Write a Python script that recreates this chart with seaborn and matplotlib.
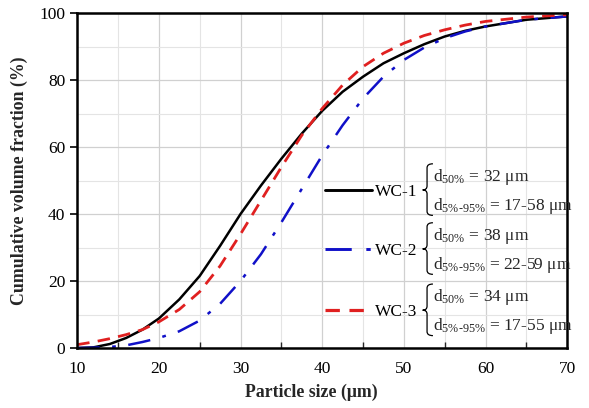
import numpy as np
import pandas as pd
import seaborn as sns
import matplotlib
matplotlib.use("Agg")
import matplotlib.pyplot as plt
from matplotlib.path import Path
from matplotlib.patches import PathPatch
from matplotlib.ticker import MultipleLocator

# ---- data ----
size_um = [10, 12, 14, 16, 18, 20, 22.5, 25, 27.5, 30, 32.5, 35, 37.5, 40,
           42.5, 45, 47.5, 50, 52.5, 55, 57.5, 60, 65, 70]
wc1 = [0, 0.2, 1.2, 3, 5.5, 8.8, 14.5, 21.5, 30.5, 40, 48.5, 56.5, 64, 70.8,
       76.5, 81, 85, 88, 90.7, 93, 94.7, 96, 98, 99]
wc2 = [0, 0.1, 0.3, 0.8, 1.8, 3, 5, 8.2, 13.2, 20, 28, 37.5, 47.5, 57.5,
       66.5, 74.5, 81, 86, 89.7, 92.5, 94.5, 96, 98, 99]
wc3 = [1, 1.8, 2.8, 4, 5.5, 7.8, 11.5, 16.8, 24.5, 34, 44, 54, 63.5, 71.5,
       78.5, 84, 88, 91, 93.3, 95, 96.4, 97.5, 98.8, 99.5]
series_names = ["WC-1", "WC-2", "WC-3"]
d50_labels = ["32", "38", "34"]
d595_labels = ["17-58", "22-59", "17-55"]
x_ticks = [10, 20, 30, 40, 50, 60, 70]
y_ticks = [0, 20, 40, 60, 80, 100]

df = pd.DataFrame({
    "size": size_um * 3,
    "frac": wc1 + wc2 + wc3,
    "sample": sum([[n] * len(size_um) for n in series_names], []),
})

sns.set_theme(style="white")
plt.rcParams["font.family"] = ["Liberation Serif", "DejaVu Serif"]
plt.rcParams["mathtext.fontset"] = "custom"
plt.rcParams["mathtext.rm"] = "Liberation Serif"
plt.rcParams["mathtext.it"] = "Liberation Serif"

fig = plt.figure(figsize=(5.89, 4.08), dpi=100)
ax = fig.add_axes([0.131, 0.147, 0.832, 0.821])

colors = {"WC-1": "black", "WC-2": "#1010c8", "WC-3": "#e02020"}
styles = {"WC-1": "-", "WC-2": (0, (9, 5, 1.5, 5)), "WC-3": (0, (4.5, 3))}
lws = {"WC-1": 1.8, "WC-2": 1.8, "WC-3": 2.0}

for name in series_names:
    sub = df[df["sample"] == name]
    sns.lineplot(data=sub, x="size", y="frac", ax=ax, color=colors[name],
                 linewidth=lws[name], linestyle=styles[name], legend=False)

ax.set_xlim(10, 70)
ax.set_ylim(0, 100)
ax.set_xticks(x_ticks)
ax.set_yticks(y_ticks)
ax.xaxis.set_minor_locator(MultipleLocator(5))
ax.yaxis.set_minor_locator(MultipleLocator(10))
ax.grid(True, which="major", color="#d0d0d0", linewidth=0.9)
ax.grid(True, which="minor", color="#e4e4e4", linewidth=0.8)
ax.set_axisbelow(True)
for sp in ax.spines.values():
    sp.set_color("black")
    sp.set_linewidth(1.8)
ax.tick_params(axis="x", which="major", direction="inout", length=7, width=1.2,
               labelsize=12.5, colors="black", pad=6)
ax.tick_params(axis="x", which="minor", direction="in", length=4, width=1.0,
               bottom=True)
ax.tick_params(axis="y", which="major", direction="out", length=5, width=1.2,
               labelsize=12.5, colors="black", left=True)
ax.tick_params(axis="y", which="minor", left=False)
ax.set_xlabel("Particle size (μm)", fontsize=12.8, fontweight="bold", labelpad=6)
ax.xaxis.set_label_coords(0.477, -0.105)
ax.set_ylabel("Cumulative volume fraction (%)", fontsize=12.8, fontweight="bold",
              labelpad=8)

# ---- custom legend with braces ----
key_y = [0.472, 0.296, 0.113]
trans = ax.transAxes
for i, name in enumerate(series_names):
    yk = key_y[i]
    ax.plot([0.506, 0.602], [yk, yk], transform=trans, color=colors[name],
            linewidth=lws[name] + 0.3, linestyle=styles[name], clip_on=False)
    ax.text(0.608, yk - 0.018, name, transform=trans, fontsize=12.5,
            va="baseline", ha="left", color="black")
    # brace
    bx = 0.714
    top = yk + 0.078
    bot = yk - 0.076
    w = 0.012
    verts = [(bx + w, top), (bx, top), (bx, top - 0.012),
             (bx, yk + 0.012), (bx, yk), (bx - 0.009, yk),
             (bx, yk), (bx, yk - 0.012),
             (bx, bot + 0.012), (bx, bot), (bx + w, bot)]
    codes = [Path.MOVETO, Path.CURVE3, Path.CURVE3,
             Path.LINETO, Path.CURVE3, Path.CURVE3,
             Path.CURVE3, Path.CURVE3,
             Path.LINETO, Path.CURVE3, Path.CURVE3]
    ax.add_patch(PathPatch(Path(verts, codes), transform=trans, fill=False,
                           edgecolor="black", linewidth=0.9, clip_on=False))
    ax.text(0.727, yk + 0.027, r"d$_{\mathrm{50\%}}$ = " + d50_labels[i] + " μm",
            transform=trans, fontsize=12.5, va="baseline", ha="left")
    ax.text(0.727, yk - 0.060,
            "d$_{\\mathrm{5\\%\u201095\\%}}$ = " + d595_labels[i] + " μm",
            transform=trans, fontsize=12.5, va="baseline", ha="left")

fig.savefig("out.png", dpi=100)
